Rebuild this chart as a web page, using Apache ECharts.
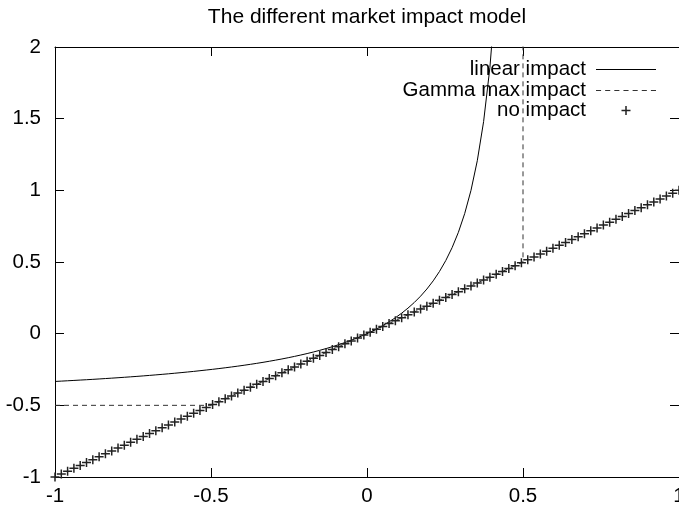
<!DOCTYPE html>
<html>
<head>
<meta charset="utf-8">
<script src="https://cdn.jsdelivr.net/npm/echarts@6/dist/echarts.min.js"></script>
<style>html,body{margin:0;padding:0;background:#fff}#c{width:679px;height:510px}</style>
</head>
<body>
<div id="c"></div>
<script>
var titleText = 'The different market impact model';
var seriesNames = ['linear impact', 'Gamma max impact', 'no impact'];
var xTicks = { min: -1, max: 1, interval: 0.5 };
var yTicks = { min: -1, max: 2, interval: 0.5 };

var sampleX = [-1, -0.9798, -0.9596, -0.9394, -0.9192, -0.899, -0.8788, -0.8586, -0.8384, -0.8182,
  -0.798, -0.7778, -0.7576, -0.7374, -0.7172, -0.697, -0.6768, -0.6566, -0.6364, -0.6162,
  -0.596, -0.5758, -0.5556, -0.5354, -0.5152, -0.4949, -0.4747, -0.4545, -0.4343, -0.4141,
  -0.3939, -0.3737, -0.3535, -0.3333, -0.3131, -0.2929, -0.2727, -0.2525, -0.2323, -0.2121,
  -0.1919, -0.1717, -0.1515, -0.1313, -0.1111, -0.0909, -0.0707, -0.0505, -0.0303, -0.0101,
  0.0101, 0.0303, 0.0505, 0.0707, 0.0909, 0.1111, 0.1313, 0.1515, 0.1717, 0.1919,
  0.2121, 0.2323, 0.2525, 0.2727, 0.2929, 0.3131, 0.3333, 0.3535, 0.3737, 0.3939,
  0.4141, 0.4343, 0.4545, 0.4747, 0.4949, 0.5152, 0.5354, 0.5556, 0.5758, 0.596,
  0.6162, 0.6364, 0.6566, 0.6768, 0.697, 0.7172, 0.7374, 0.7576, 0.7778, 0.798,
  0.8182, 0.8384, 0.8586, 0.8788, 0.899, 0.9192, 0.9394, 0.9596, 0.9798, 1];

var noImpactY = [-1, -0.9798, -0.9596, -0.9394, -0.9192, -0.899, -0.8788, -0.8586, -0.8384, -0.8182,
  -0.798, -0.7778, -0.7576, -0.7374, -0.7172, -0.697, -0.6768, -0.6566, -0.6364, -0.6162,
  -0.596, -0.5758, -0.5556, -0.5354, -0.5152, -0.4949, -0.4747, -0.4545, -0.4343, -0.4141,
  -0.3939, -0.3737, -0.3535, -0.3333, -0.3131, -0.2929, -0.2727, -0.2525, -0.2323, -0.2121,
  -0.1919, -0.1717, -0.1515, -0.1313, -0.1111, -0.0909, -0.0707, -0.0505, -0.0303, -0.0101,
  0.0101, 0.0303, 0.0505, 0.0707, 0.0909, 0.1111, 0.1313, 0.1515, 0.1717, 0.1919,
  0.2121, 0.2323, 0.2525, 0.2727, 0.2929, 0.3131, 0.3333, 0.3535, 0.3737, 0.3939,
  0.4141, 0.4343, 0.4545, 0.4747, 0.4949, 0.5152, 0.5354, 0.5556, 0.5758, 0.596,
  0.6162, 0.6364, 0.6566, 0.6768, 0.697, 0.7172, 0.7374, 0.7576, 0.7778, 0.798,
  0.8182, 0.8384, 0.8586, 0.8788, 0.899, 0.9192, 0.9394, 0.9596, 0.9798, 1];

var linearX = [-1, -0.9798, -0.9596, -0.9394, -0.9192, -0.899, -0.8788, -0.8586, -0.8384, -0.8182,
  -0.798, -0.7778, -0.7576, -0.7374, -0.7172, -0.697, -0.6768, -0.6566, -0.6364, -0.6162,
  -0.596, -0.5758, -0.5556, -0.5354, -0.5152, -0.4949, -0.4747, -0.4545, -0.4343, -0.4141,
  -0.3939, -0.3737, -0.3535, -0.3333, -0.3131, -0.2929, -0.2727, -0.2525, -0.2323, -0.2121,
  -0.1919, -0.1717, -0.1515, -0.1313, -0.1111, -0.0909, -0.0707, -0.0505, -0.0303, -0.0101,
  0.0101, 0.0303, 0.0505, 0.0707, 0.0909, 0.1111, 0.1313, 0.1515, 0.1717, 0.1919,
  0.2121, 0.2323, 0.2525, 0.2727, 0.2929, 0.3131, 0.3333, 0.3535, 0.3737, 0.3939, 0.4141];
var linearY = [-0.3333, -0.3311, -0.3287, -0.3263, -0.3238, -0.3213, -0.3187, -0.316, -0.3132, -0.3103,
  -0.3074, -0.3043, -0.3012, -0.298, -0.2946, -0.2911, -0.2876, -0.2838, -0.28, -0.276,
  -0.2719, -0.2676, -0.2632, -0.2585, -0.2537, -0.2487, -0.2435, -0.2381, -0.2324, -0.2265,
  -0.2203, -0.2139, -0.2071, -0.2, -0.1925, -0.1847, -0.1765, -0.1678, -0.1586, -0.1489,
  -0.1387, -0.1278, -0.1163, -0.104, -0.0909, -0.0769, -0.0619, -0.0459, -0.0286, -0.0099,
  0.0103, 0.0323, 0.0562, 0.0823, 0.1111, 0.1428, 0.1781, 0.2174, 0.2615, 0.3114,
  0.3684, 0.4339, 0.5101, 0.5999, 0.7071, 0.8376, 1.0, 1.2065, 1.4794, 1.8563, 2.4104];

var gammaX = [-1, -0.5, 0.5, 0.5];
var gammaY = [-0.5, -0.5, 0.5, 2.5];

function pairs(xs, ys) { var out = []; for (var i = 0; i < xs.length; i++) out.push([xs[i], ys[i]]); return out; }

var FONT = 'Liberation Sans';
var FS = 20.5;
var plusPath = 'path://M-0.75,-4.5 L0.75,-4.5 L0.75,-0.75 L4.5,-0.75 L4.5,0.75 L0.75,0.75 L0.75,4.5 L-0.75,4.5 L-0.75,0.75 L-4.5,0.75 L-4.5,-0.75 L-0.75,-0.75 Z';
var plusLegendPath = 'path://M0,4.5 L0.01,4.5 L0.01,4.51 Z M60,4.5 L59.99,4.5 L59.99,4.51 Z ' +
  'M29.25,0 L30.75,0 L30.75,3.75 L34.5,3.75 L34.5,5.25 L30.75,5.25 L30.75,9 L29.25,9 L29.25,5.25 L25.5,5.25 L25.5,3.75 L29.25,3.75 Z';
var dashPath = 'path://M0,0h5v1h-5z M9,0h5v1h-5z M18,0h5v1h-5z M27,0h5v1h-5z M36,0h5v1h-5z M45,0h5v1h-5z M54,0h5v1h-5z';

function axisBase(extra) {
  var a = {
    type: 'value',
    axisLine: { show: true, onZero: false, lineStyle: { color: '#000', width: 1 } },
    axisTick: { show: true, inside: true, length: 9, lineStyle: { color: '#000', width: 1 } },
    splitLine: { show: false },
    axisLabel: { color: '#000', fontFamily: FONT, fontSize: FS, showMinLabel: true, showMaxLabel: true }
  };
  for (var k in extra) a[k] = extra[k];
  return a;
}

function legendBox(name, icon, top, ih) {
  return { data: [{ name: name, icon: icon }], orient: 'vertical', right: 23, top: top, padding: 0,
    align: 'right', itemWidth: 60, itemHeight: ih, symbolKeepAspect: false,
    textStyle: { fontFamily: FONT, fontSize: FS, color: '#000', padding: [0, 5, 0, 0] } };
}

var chart = echarts.init(document.getElementById('c'), null, { renderer: 'canvas' });
chart.setOption({
  animation: false,
  backgroundColor: '#fff',
  title: {
    text: titleText, left: 367, top: 7, textAlign: 'center', padding: 0,
    textStyle: { fontFamily: FONT, fontSize: 21, fontWeight: 'normal', color: '#000' }
  },
  grid: { left: 55, right: 0, top: 47, bottom: 33, show: false, outerBoundsMode: 'none', containLabel: false },
  legend: [
    legendBox(seriesNames[0], 'rect', 59, 1),
    legendBox(seriesNames[1], dashPath, 80, 1),
    legendBox(seriesNames[2], plusLegendPath, 100, 9)
  ],
  xAxis: [
    axisBase({ min: xTicks.min, max: xTicks.max, interval: xTicks.interval, position: 'bottom',
      axisLabel: { color: '#000', fontFamily: FONT, fontSize: FS, margin: 9, showMinLabel: true, showMaxLabel: true } }),
    axisBase({ min: xTicks.min, max: xTicks.max, interval: xTicks.interval, position: 'top', axisLabel: { show: false } })
  ],
  yAxis: [
    axisBase({ min: yTicks.min, max: yTicks.max, interval: yTicks.interval, position: 'left',
      axisLabel: { color: '#000', fontFamily: FONT, fontSize: FS, margin: 14, showMinLabel: true, showMaxLabel: true } }),
    axisBase({ min: yTicks.min, max: yTicks.max, interval: yTicks.interval, position: 'right', axisLabel: { show: false } })
  ],
  series: [
    { name: seriesNames[0], type: 'line', data: pairs(linearX, linearY), showSymbol: false, symbol: 'none',
      clip: true, lineStyle: { color: '#000', width: 1 }, itemStyle: { color: '#000' }, z: 3 },
    { name: seriesNames[1], type: 'line', data: pairs(gammaX, gammaY), showSymbol: false, symbol: 'none',
      clip: true, lineStyle: { color: '#333', width: 1, type: [5, 4] }, itemStyle: { color: '#333' }, z: 2 },
    { name: seriesNames[2], type: 'scatter', data: pairs(sampleX, noImpactY), symbol: plusPath, symbolSize: 9,
      clip: false, itemStyle: { color: '#222', opacity: 1 }, z: 4 }
  ]
});
</script>
</body>
</html>
